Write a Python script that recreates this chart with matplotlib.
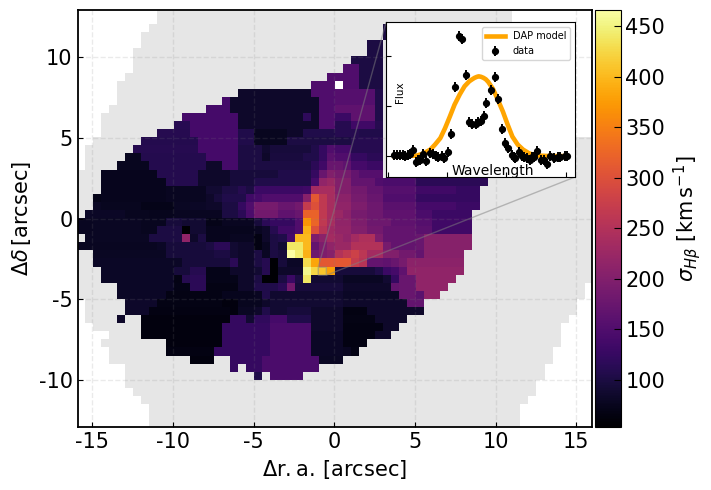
import numpy as np
import matplotlib
matplotlib.use("Agg")
import matplotlib.pyplot as plt

plt.rcParams["axes.unicode_minus"] = False

# footprint of the bundle, first and last+1 column for each row (top to bottom)
foot_start = [10,10,9,8,8,7,7,7,6,5,5,5,4,3,3,3,2,1,1,1] + [0]*16 + [1,1,1,2,4,3,4,4,6,6,6,7,8,9,9,9]
foot_stop = [54,54,55,56,56,57,57,57,58,59,59,59,60,61,61,61] + [64]*18 + [63,63,62,62,61,60,60,60,59,59,58,58,57,57,56,55,55,55]

# sigma H beta, (first column, last+1 column, value) per row
sigma_rows = {
 2: [(38,39,100)],
 3: [(38,39,100)],
 4: [(36,38,100)],
 5: [(36,38,100)],
 6: [(34,38,100)],
 7: [(33,35,150),(35,38,100)],
 8: [(31,35,150),(35,38,100)],
 9: [(29,32,150),(33,35,150),(35,38,100)],
 10: [(20,29,85),(29,32,150),(32,37,155),(37,38,105)],
 11: [(18,19,140),(19,30,85),(30,32,150),(32,37,155),(37,38,105)],
 12: [(16,19,140),(19,30,85),(30,32,150),(32,37,165),(37,38,105)],
 13: [(13,20,140),(20,28,85),(28,29,118),(29,30,85),(30,32,150),(32,34,130),(34,37,165),(37,38,105)],
 14: [(12,14,112),(14,20,140),(20,30,85),(30,32,150),(32,34,110),(34,37,135),(37,38,110)],
 15: [(10,14,110),(14,20,140),(20,22,105),(22,26,76),(26,28,85),(28,32,105),(32,35,110),(35,38,105)],
 16: [(8,15,108),(15,20,140),(20,22,105),(22,26,76),(26,34,100),(34,38,110)],
 17: [(7,15,110),(15,20,140),(20,23,100),(23,24,88),(24,29,95),(29,30,105),(30,31,125),(31,32,150),(32,34,140),(34,38,110)],
 18: [(6,8,76),(8,16,108),(16,20,140),(20,23,100),(23,24,85),(24,28,98),(28,30,105),(30,31,125),(31,32,160),(32,34,150),(34,36,125),(36,38,115)],
 19: [(5,9,76),(9,16,108),(16,18,85),(18,20,140),(20,29,100),(29,30,115),(30,31,135),(31,33,175),(33,34,165),(34,36,140),(36,38,130)],
 20: [(3,10,74),(10,15,108),(15,19,85),(19,25,95),(25,29,105),(29,30,125),(30,31,175),(31,32,200),(32,34,190),(34,35,170),(35,38,155)],
 21: [(3,11,74),(11,15,108),(15,19,85),(19,22,95),(22,29,105),(29,30,140),(30,31,215),(31,32,225),(32,34,200),(34,37,170),(37,38,150),(38,42,145),(42,51,115)],
 22: [(3,11,74),(11,16,78),(16,18,90),(18,20,100),(20,21,110),(21,22,100),(22,28,130),(28,29,135),(29,30,235),(30,32,240),(32,34,200),(34,36,185),(36,38,170),(38,42,155),(42,47,135),(47,50,125)],
 23: [(2,3,72),(3,11,74),(11,16,78),(16,17,85),(17,18,95),(18,21,105),(21,22,135),(22,23,140),(23,28,150),(28,29,205),(29,30,310),(30,31,265),(31,32,240),(32,34,210),(34,36,190),(36,38,175),(38,42,150),(42,50,125)],
 24: [(2,3,80),(3,8,76),(8,12,72),(12,14,80),(14,16,82),(16,18,85),(18,20,100),(20,21,125),(21,22,150),(22,25,190),(25,27,175),(27,28,185),(28,29,270),(29,30,300),(30,31,265),(31,32,240),(32,34,215),(34,36,195),(36,38,180),(38,42,160),(42,47,140),(47,50,130)],
 25: [(1,6,82),(6,9,76),(9,12,74),(12,18,78),(18,20,100),(20,21,115),(21,22,145),(22,25,185),(25,27,165),(27,28,175),(28,30,322),(30,31,265),(31,32,240),(32,33,225),(33,34,210),(34,36,190),(36,38,180),(38,42,165),(42,44,145),(44,49,130)],
 26: [(0,2,78),(2,8,80),(8,11,76),(11,13,95),(13,16,90),(16,18,72),(18,22,78),(22,23,95),(23,24,115),(24,27,125),(27,28,150),(28,29,370),(29,30,325),(30,31,265),(31,32,240),(32,34,215),(34,36,195),(36,39,180),(39,42,165),(42,44,155),(44,49,135)],
 27: [(0,2,78),(2,8,80),(8,10,76),(10,13,100),(13,14,55),(14,16,90),(16,22,74),(22,23,78),(23,24,85),(24,25,110),(25,27,135),(27,28,150),(28,29,395),(29,30,300),(30,31,255),(31,32,230),(32,34,218),(34,36,200),(36,38,185),(38,42,170),(42,44,160),(44,49,135)],
 28: [(1,9,80),(9,13,100),(13,14,215),(14,15,85),(15,16,100),(16,19,74),(19,22,78),(22,23,66),(23,24,85),(24,25,100),(25,26,105),(26,27,140),(27,29,400),(29,30,195),(30,31,210),(31,32,235),(32,33,225),(33,34,215),(34,35,235),(35,37,245),(37,38,195),(38,42,170),(42,43,175),(43,49,205)],
 29: [(0,10,78),(10,11,82),(11,16,95),(16,17,100),(17,19,115),(19,20,90),(20,22,85),(22,23,66),(23,24,78),(24,25,100),(25,26,90),(26,28,440),(28,29,400),(29,30,170),(30,31,195),(31,32,215),(32,34,225),(34,38,250),(38,39,190),(39,42,170),(42,43,175),(43,49,205)],
 30: [(2,11,80),(11,17,95),(17,19,100),(19,20,90),(20,22,85),(22,23,100),(23,24,80),(24,25,100),(25,26,95),(26,27,465),(27,28,445),(28,29,395),(29,30,180),(30,31,195),(31,32,205),(32,33,250),(33,34,265),(34,35,280),(35,36,260),(36,38,235),(38,40,200),(40,42,185),(42,43,170),(43,48,205)],
 31: [(2,13,82),(13,19,95),(19,20,115),(20,22,85),(22,23,100),(23,24,110),(24,25,55),(25,26,95),(26,28,82),(28,29,430),(29,30,385),(30,34,310),(34,35,270),(35,36,255),(36,38,170),(38,39,165),(39,40,175),(40,41,190),(41,48,210)],
 32: [(3,12,82),(12,14,95),(14,16,110),(16,19,72),(19,22,85),(22,23,90),(23,24,110),(24,25,55),(25,28,85),(28,29,455),(29,30,425),(30,31,410),(31,32,380),(32,37,95),(37,38,105),(38,39,130),(39,40,140),(40,41,165),(41,48,215)],
 33: [(3,12,82),(12,13,68),(13,14,110),(14,16,115),(16,20,72),(20,22,85),(22,23,100),(23,25,55),(25,26,100),(26,27,130),(27,28,100),(28,29,440),(29,33,90),(33,38,80),(38,39,90),(39,40,125),(40,42,175),(42,47,215)],
 34: [(5,12,82),(12,14,70),(14,16,115),(16,20,68),(20,22,85),(22,25,105),(25,26,115),(26,27,185),(27,33,95),(33,39,84),(39,40,170),(40,42,175),(42,46,215)],
 35: [(5,11,82),(11,18,68),(18,22,74),(22,23,78),(23,24,105),(24,33,88),(33,40,82),(40,42,175),(42,43,160),(43,45,215)],
 36: [(6,10,85),(10,18,68),(18,20,64),(20,23,76),(23,24,85),(24,33,90),(33,41,85),(41,43,170)],
 37: [(6,9,85),(9,19,66),(19,20,64),(20,22,80),(22,23,85),(23,24,105),(24,26,90),(26,29,95),(29,33,85),(33,36,66),(36,43,85)],
 38: [(5,6,85),(8,19,64),(19,21,125),(21,22,90),(22,24,120),(24,26,140),(26,29,105),(29,33,85),(33,37,68),(37,41,85)],
 39: [(8,18,64),(18,24,125),(24,29,145),(29,33,85),(33,38,66),(38,40,85)],
 40: [(8,18,64),(18,24,125),(24,29,145),(29,33,82),(33,37,66),(37,39,85)],
 41: [(11,18,64),(18,24,125),(24,29,145),(29,33,82),(33,36,66)],
 42: [(11,17,66),(17,24,125),(24,29,145),(29,33,82),(33,34,78),(34,35,68)],
 43: [(14,17,64),(19,23,125),(23,30,145),(30,33,80)],
 44: [(19,20,125),(21,23,125),(23,30,145)],
 45: [(22,23,105),(24,28,145)],
}

# spectrum in the inset
wave = [4851.0,4851.5,4852.0,4852.4,4852.9,4853.3,4853.6,4854.1,4854.7,4855.1,4855.4,4855.9,4856.3,4857.1,4857.6,4858.0,4858.4,4859.0,4859.4,4860.1,
        4860.6,4861.3,4862.0,4862.5,4863.2,4863.7,4864.2,4864.8,4865.2,4865.7,4866.2,4866.6,4867.4,4868.0,4868.5,4869.2,4869.7,4870.3,4870.9,4871.2,
        4871.5,4872.2,4872.6,4873.0,4873.4,4873.9,4874.3,4874.6,4875.1,4875.8,4876.4,4876.9,4877.4,4878.1,4878.7,4879.1,4879.9,4880.2]
flux = [0.02,0.02,0.02,0.02,0.0,0.02,0.04,0.12,-0.11,-0.08,-0.08,0.05,-0.09,0.07,0.05,0.01,-0.01,0.0,-0.04,0.09,
        0.44,1.39,2.4,2.35,1.62,0.69,0.65,0.65,0.69,0.71,0.81,1.07,1.32,1.59,1.14,0.55,0.27,0.16,0.02,-0.01,
        -0.04,0.09,0.01,-0.02,-0.04,-0.07,-0.02,-0.01,0.11,-0.08,-0.08,-0.16,0.0,-0.03,-0.02,-0.02,0.0,0.0]
flux_err = [0.1]*58

model_wave = [4851.0,4853.0,4854.8,4855.9,4857.1,4857.9,4858.8,4859.6,4860.4,4861.2,4862.1,4862.9,4863.7,4864.2,4864.6,4865.0,4865.3,4865.7,4866.1,4866.5,4866.9,4867.7,4868.5,4869.4,4870.2,4871.0,4871.9,4872.8,4873.9,4875.3,4877.3,4880.2]
model_flux = [0.0,0.0,0.01,0.05,0.13,0.23,0.36,0.56,0.79,1.03,1.24,1.4,1.5,1.54,1.57,1.59,1.6,1.59,1.57,1.54,1.49,1.35,1.14,0.89,0.63,0.39,0.23,0.13,0.05,0.01,0.0,0.0]

cbar_ticks = [100,150,200,250,300,350,400,450]
xticks = [-15,-10,-5,0,5,10,15]
yticks = [-10,-5,0,5,10]

foot = np.full((52,64),np.nan)
for r in range(52):
    foot[r,foot_start[r]:foot_stop[r]] = 1
foot[9,32] = np.nan  # white hole next to the inset

sigma = np.full((52,64),np.nan)
for r,spans in sigma_rows.items():
    for c0,c1,v in spans:
        sigma[r,c0:c1] = v

fig = plt.figure(figsize=(7.11,4.9),dpi=100)
ax = fig.add_axes([77.5/711,(490-427.3)/490,514/711,417.3/490])
ext = [-16,16,-13,13]
ax.imshow(foot,extent=ext,cmap="gray",vmin=0,vmax=1/0.9,aspect="auto",interpolation="nearest")
im = ax.imshow(sigma,extent=ext,cmap="inferno",vmin=53,vmax=466,aspect="auto",interpolation="nearest")
ax.set_xlim(-15.93,15.94)
ax.set_ylim(-12.92,12.93)
ax.set_xticks(xticks)
ax.set_yticks(yticks)
ax.tick_params(direction="in",labelsize=15)
ax.grid(ls="--",color="gray",alpha=0.16,lw=1)
ax.set_xlabel(r"$\Delta \rm r.a.\,[arcsec]$",fontsize=15)
ax.set_ylabel(r"$\Delta\delta\,[\rm arcsec]$",fontsize=15)
for s in ax.spines.values():
    s.set_linewidth(1.3)

cax = fig.add_axes([594.5/711,(490-427.3)/490,26/711,417.3/490])
cb = fig.colorbar(im,cax=cax)
cb.set_ticks(cbar_ticks)
cb.ax.tick_params(direction="in",length=5,labelsize=15)
cb.set_label(r"$\sigma_{H\beta}\ [\rm km\,s^{-1}]$",fontsize=15)

axins = fig.add_axes([386/711,(490-177)/490,189/711,154.5/490])
axins.plot(model_wave,model_flux,color="orange",lw=3.3,label="DAP model")
axins.errorbar(wave,flux,yerr=flux_err,fmt="o",color="k",ms=4.2,elinewidth=1.4,label="data")
axins.set_xlim(4849.6,4881.6)
axins.set_ylim(-0.42,2.68)
axins.set_xticks([4850,4860,4870,4880])
axins.set_yticks([0,1,2])
axins.set_xticklabels([])
axins.set_yticklabels([])
axins.tick_params(direction="in")
axins.set_xlabel("Wavelength",fontsize=10,labelpad=-13,x=0.565)
axins.set_ylabel("Flux",fontsize=7.5,labelpad=-17,y=0.547)
axins.legend(fontsize=7,loc="upper right")

ax.indicate_inset([-1,-3.5,0.5,0.5],inset_ax=axins,edgecolor="gray",alpha=0.5)

fig.savefig("out.png",dpi=100)
